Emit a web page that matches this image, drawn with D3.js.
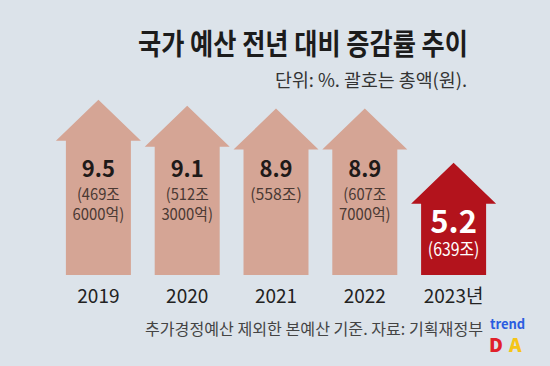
<!DOCTYPE html>
<html>
<head>
<meta charset="utf-8">
<script src="https://cdn.jsdelivr.net/npm/d3@7"></script>
<style>
  body { margin: 0; background: #dce3ea; }
  text { font-family: "Noto Sans CJK KR", "Noto Sans", sans-serif; }
</style>
</head>
<body>
<div id="chart"></div>
<script>
// data
var years = ["2019", "2020", "2021", "2022", "2023년"];
var rates = [9.5, 9.1, 8.9, 8.9, 5.2];
var totals = [["(469조", "6000억)"], ["(512조", "3000억)"], ["(558조)"], ["(607조", "7000억)"], ["(639조)"]];
var rateLabels = ["9.5", "9.1", "8.9", "8.9", "5.2"];

var width = 550, height = 366;
var baseY = 275;

var svg = d3.select("#chart")
	.append("svg")
		.attr("width", width)
		.attr("height", height);

svg.append("rect")
	.attr("width", width)
	.attr("height", height)
	.attr("fill", "#dce3ea");

// title
svg.append("text")
	.attr("x", 468)
	.attr("y", 55)
	.attr("text-anchor", "end")
	.attr("font-size", "29px")
	.attr("font-weight", "bold")
	.attr("fill", "#1c1c1c")
	.attr("textLength", 330)
	.attr("lengthAdjust", "spacingAndGlyphs")
	.text("국가 예산 전년 대비 증감률 추이");

svg.append("text")
	.attr("x", 467)
	.attr("y", 87)
	.attr("text-anchor", "end")
	.attr("font-size", "18px")
	.attr("fill", "#333")
	.attr("textLength", 192)
	.attr("lengthAdjust", "spacingAndGlyphs")
	.text("단위: %. 괄호는 총액(원).");

// scales
var x = d3.scaleBand()
	.domain(years)
	.range([54, 498]);

var y = d3.scaleLinear()
	.domain([0, 10])
	.range([239, 92.5]);

var headH = 41, headW = 42.5, shaftW = 32.5;

function arrowPath(cx, tip) {
	var hb = tip + headH;
	return "M" + cx + "," + tip +
		"L" + (cx + headW) + "," + hb +
		"L" + (cx + shaftW) + "," + hb +
		"L" + (cx + shaftW) + "," + baseY +
		"L" + (cx - shaftW) + "," + baseY +
		"L" + (cx - shaftW) + "," + hb +
		"L" + (cx - headW) + "," + hb + "Z";
}

var data = years.map(function(yr, i) {
	return { year: yr, rate: rates[i], label: rateLabels[i], total: totals[i], last: i === years.length - 1 };
});

var arrows = svg.selectAll("g.arrow")
	.data(data)
	.enter()
	.append("g")
		.attr("class", "arrow");

arrows.append("path")
	.attr("d", function(d) { return arrowPath(x(d.year) + x.bandwidth() / 2, y(d.rate)); })
	.attr("fill", function(d) { return d.last ? "#b3131c" : "#d5a595"; });

// value + total labels, one text block per arrow
arrows.each(function(d) {
	var cx = x(d.year) + x.bandwidth() / 2;
	var t = d3.select(this).append("text")
		.attr("x", cx)
		.attr("y", d.last ? y(d.rate) + 70 : 177)
		.attr("text-anchor", "middle");

	t.append("tspan")
		.attr("x", cx)
		.attr("font-size", d.last ? "31px" : "22px")
		.attr("font-weight", "bold")
		.attr("fill", d.last ? "#fff" : "#1e1a19")
		.text(d.label);

	d.total.forEach(function(line, j) {
		t.append("tspan")
			.attr("x", cx)
			.attr("dy", j === 0 ? (d.last ? 23 : 23) : 20)
			.attr("font-size", d.last ? "18px" : "16px")
			.attr("fill", d.last ? "#fff" : "#4a3933")
			.attr("textLength", line.length * 8.6)
			.attr("lengthAdjust", "spacingAndGlyphs")
			.text(line);
	});
});

// year axis labels
svg.selectAll("text.year")
	.data(years)
	.enter()
	.append("text")
		.attr("class", "year")
		.attr("x", function(d) { return x(d) + x.bandwidth() / 2; })
		.attr("y", 303)
		.attr("text-anchor", "middle")
		.attr("font-size", "19px")
		.attr("fill", "#222")
		.text(function(d) { return d; });

// footer
svg.append("text")
	.attr("x", 483)
	.attr("y", 335)
	.attr("text-anchor", "end")
	.attr("font-size", "16px")
	.attr("fill", "#444")
	.attr("textLength", 338)
	.attr("lengthAdjust", "spacingAndGlyphs")
	.text("추가경정예산 제외한 본예산 기준. 자료: 기획재정부");

// logo
svg.append("text")
	.attr("x", 490)
	.attr("y", 329)
	.attr("font-family", "Roboto, sans-serif")
	.attr("font-size", "13px")
	.attr("font-weight", "bold")
	.attr("fill", "#2a5ce0")
	.text("trend");

svg.append("text")
	.attr("x", 489)
	.attr("y", 352)
	.attr("font-family", "Roboto, sans-serif")
	.attr("font-size", "19px")
	.attr("font-weight", "900")
	.attr("fill", "#e0202a")
	.text("D");

svg.append("text")
	.attr("x", 509)
	.attr("y", 352)
	.attr("font-family", "Roboto, sans-serif")
	.attr("font-size", "19px")
	.attr("font-weight", "900")
	.attr("fill", "#f5c518")
	.text("A");
</script>
</body>
</html>
